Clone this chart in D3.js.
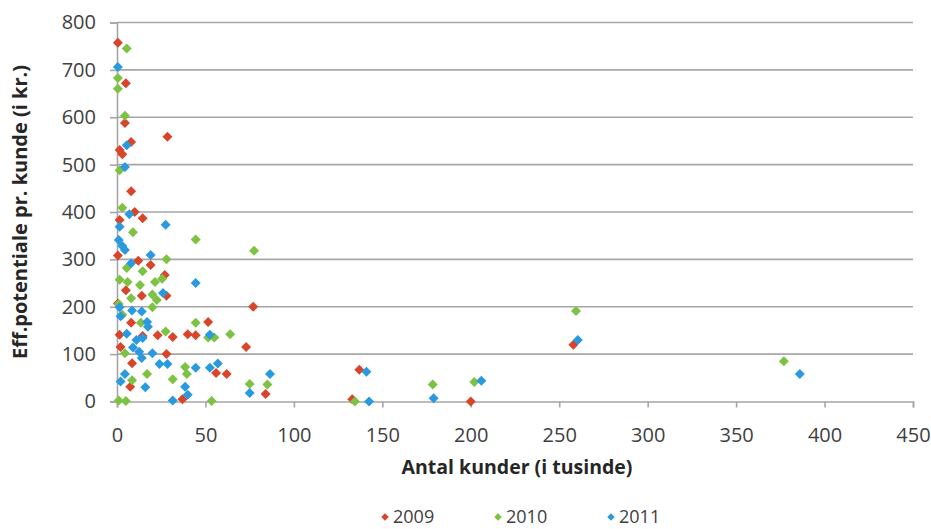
<!DOCTYPE html>
<html>
<head>
<meta charset="utf-8">
<script src="https://cdn.jsdelivr.net/npm/d3@7"></script>
<style>
  html, body { margin: 0; padding: 0; background: #ffffff; }
  svg { display: block; }
  text { font-family: "Open Sans", "Noto Sans", sans-serif; }
</style>
</head>
<body>
<svg id="chart" width="931" height="529"></svg>
<script>
// Customers (thousands) vs. efficiency potential per customer (kr.), by year
const xTicks = [0, 50, 100, 150, 200, 250, 300, 350, 400, 450];
const yTicks = [0, 100, 200, 300, 400, 500, 600, 700, 800];
const seriesNames = ["2009", "2010", "2011"];
const seriesColors = ["#d8452b", "#7dc242", "#2a9ae0"];

const data2009 = [
  [0.5, 757], [5, 672], [4.5, 588], [28.5, 559], [8, 548], [1.5, 531], [3, 522],
  [8, 444], [10, 400], [14.5, 387], [1.5, 383], [12, 297], [19, 288], [27, 267],
  [0.5, 308], [5, 235], [14, 223], [28, 223], [0.5, 207], [77, 200], [8, 166],
  [51.5, 168], [1.5, 141], [14.5, 138], [23, 140], [31.5, 136], [40, 142],
  [44.5, 140], [73, 115], [2, 115], [28, 100], [8.5, 81], [56, 60], [62, 58],
  [7.5, 31], [37, 5], [84, 16], [258, 120], [137, 67], [133, 5], [200, 0]
];
const data2010 = [
  [5.5, 745], [0.5, 683], [0.5, 660], [4.5, 603], [1.5, 488], [3, 409], [9, 357],
  [44.5, 342], [77.5, 318], [28, 300], [5.5, 282], [14.5, 275], [1.5, 257],
  [6, 252], [13, 246], [21.5, 252], [25.5, 259], [8, 218], [20, 226], [22.5, 214],
  [1, 206], [20, 199], [3, 183], [13.5, 166], [44.5, 166], [27.5, 148],
  [51.5, 135], [55, 135], [64, 142], [4.5, 102], [38.5, 73], [17, 58], [39.5, 58],
  [8.5, 45], [31.5, 47], [75, 37], [85, 36], [1, 2], [5, 1], [53.5, 1],
  [259.5, 191], [134.5, 0], [178.5, 36], [202, 41], [377, 85]
];
const data2011 = [
  [0.5, 706], [5.5, 541], [4.5, 495], [7, 395], [27.5, 373], [1.5, 369], [1, 341],
  [3, 328], [4.5, 320], [19, 309], [8, 292], [44.5, 250], [26, 229], [1.5, 199],
  [8.5, 192], [14, 190], [2, 180], [17, 168], [17.5, 158], [5.5, 143], [52.5, 141],
  [11, 130], [14.5, 134], [9, 114], [12.5, 105], [20, 102], [14, 92], [24, 79],
  [28.5, 79], [4.5, 58], [2, 42], [16, 30], [31.5, 2], [38.5, 31], [40, 14],
  [44.5, 71], [52.5, 71], [57, 80], [86.5, 58], [75, 18], [260.5, 130], [141, 63],
  [142.5, 0], [179, 7], [206, 44], [386, 58]
];
const allSeries = [data2009, data2010, data2011];

const svg = d3.select("#chart");
const plot = { left: 117, right: 913, top: 22.5, bottom: 401.5 };

const x = d3.scaleLinear().domain([0, 450]).range([plot.left, plot.right]);
const y = d3.scaleLinear().domain([0, 800]).range([plot.bottom, plot.top]);

const gridColor = "#a6a6a6";
const labelColor = "#404040";

// horizontal gridlines
svg.append("g")
  .selectAll("line")
  .data(yTicks.filter(d => d > 0))
  .join("line")
  .attr("x1", plot.left).attr("x2", plot.right)
  .attr("y1", d => y(d)).attr("y2", d => y(d))
  .attr("stroke", gridColor).attr("stroke-width", 1.6);

// y axis
const yAxis = svg.append("g")
  .attr("transform", `translate(${plot.left},0)`)
  .call(d3.axisLeft(y).tickValues(yTicks).tickSize(7).tickPadding(14));
// x axis
const xAxis = svg.append("g")
  .attr("transform", `translate(0,${plot.bottom})`)
  .call(d3.axisBottom(x).tickValues(xTicks).tickSize(6).tickPadding(20));

[yAxis, xAxis].forEach(g => {
  g.select(".domain").attr("stroke", gridColor).attr("stroke-width", 1.6);
  g.selectAll(".tick line").attr("stroke", gridColor).attr("stroke-width", 1.6);
  g.selectAll(".tick text")
    .attr("fill", labelColor)
    .style("font-size", "20px")
    .style("font-family", "'Open Sans', sans-serif");
});

// markers: square turned 45 degrees
const diamond = d3.symbol().type(d3.symbolSquare).size(50);
allSeries.forEach((pts, i) => {
  svg.append("g")
    .selectAll("path")
    .data(pts)
    .join("path")
    .attr("d", diamond)
    .attr("transform", d => `translate(${x(d[0])},${y(d[1])}) rotate(45)`)
    .attr("fill", seriesColors[i]);
});

// axis titles
svg.append("text")
  .attr("x", 517)
  .attr("y", 474)
  .attr("text-anchor", "middle")
  .attr("fill", "#262626")
  .style("font-size", "19.5px")
  .style("font-weight", "bold")
  .text("Antal kunder (i tusinde)");

svg.append("text")
  .attr("transform", `translate(27,212) rotate(-90)`)
  .attr("text-anchor", "middle")
  .attr("fill", "#262626")
  .style("font-size", "20px")
  .style("font-weight", "bold")
  .text("Eff.potentiale pr. kunde (i kr.)");

// legend
const legendX = [385, 498, 611];
const legendSym = d3.symbol().type(d3.symbolSquare).size(28);
const legend = svg.append("g");
seriesNames.forEach((name, i) => {
  const g = legend.append("g").attr("transform", `translate(${legendX[i]},517)`);
  g.append("path")
    .attr("d", legendSym)
    .attr("transform", "rotate(45)")
    .attr("fill", seriesColors[i]);
  g.append("text")
    .attr("x", 8).attr("y", 6)
    .attr("fill", labelColor)
    .style("font-size", "18px")
    .text(name);
});
</script>
</body>
</html>
